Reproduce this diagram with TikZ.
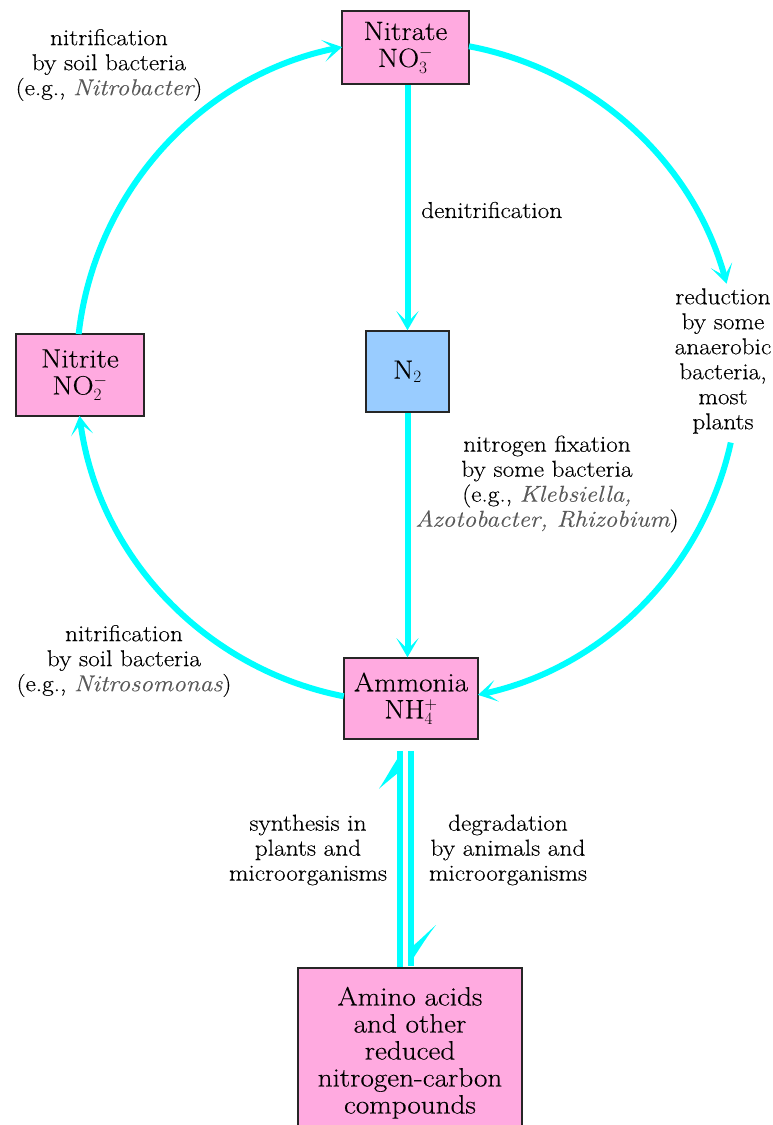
\documentclass[tikz,border=0pt]{standalone}
\usepackage{fontspec}
\setmainfont{Latin Modern Roman}[FakeStretch=1.1,FakeBold=0.3]
\usetikzlibrary{arrows.meta}
\definecolor{pinkc}{HTML}{FFAAE0}
\definecolor{bluec}{HTML}{99CCFF}
\definecolor{flowc}{HTML}{00FFFF}
\definecolor{italc}{gray}{0.35}
\newcommand{\spec}[1]{{\color{italc}\itshape #1}}
\tikzset{
  box/.style={draw=black!85, line width=1.5pt, fill=pinkc, align=center, inner sep=0pt,
    font=\fontsize{26.5}{27}\selectfont},
  lab/.style={align=center, inner sep=0pt, font=\fontsize{23}{25}\selectfont},
  flow/.style={draw=flowc, line width=6pt, -{Stealth[length=19pt,width=22pt,inset=11pt]}},
  shaft/.style={draw=flowc, line width=6pt},
  barb/.style={fill=flowc}
}
\begin{document}
\begin{tikzpicture}[x=1pt,y=-1pt]
\useasboundingbox (0,0) rectangle (773,1125);
\clip (0,0) rectangle (773,1125);
% boxes
\node[box, minimum width=127pt, minimum height=73pt] (nitrate) at (405.5,47.5) {Nitrate\\NO$_3^-$};
\node[box, minimum width=128pt, minimum height=82pt] (nitrite) at (80,375) {Nitrite\\NO$_2^-$};
\node[box, fill=bluec, minimum width=83pt, minimum height=81pt] (n2) at (407.5,371.5) {N$_2$};
\node[box, minimum width=134pt, minimum height=81pt] (amm) at (411,698.5) {Ammonia\\NH$_4^+$};
\node[box, anchor=north, minimum width=224pt, inner ysep=19pt] (amino) at (410,967)
  {Amino acids\\and other\\reduced\\nitrogen-carbon\\compounds};
% labels
\node[lab] (l1) at (109,65) {nitrification\\by soil bacteria\\(e.g., \spec{Nitrobacter})};
\node[lab, anchor=west] (l2) at (421,210) {denitrification};
\node[lab] (l3) at (723,361) {reduction\\by some\\anaerobic\\bacteria,\\most\\plants};
\node[lab] (l4) at (547,484) {nitrogen fixation\\by some bacteria\\(e.g., \spec{Klebsiella,}\\\spec{Azotobacter, Rhizobium})};
\node[lab] (l5) at (124,661) {nitrification\\by soil bacteria\\(e.g., \spec{Nitrosomonas})};
\node[lab] (l6) at (308,850) {synthesis in\\plants and\\microorganisms};
\node[lab] (l7) at (508,850) {degradation\\by animals and\\microorganisms};
% harpoon ends
\coordinate (lt) at ([xshift=-11pt,yshift=-11pt]amm.south);
\coordinate (rt) at ([yshift=1pt]amino.north -| amm.south);
% vertical connectors
\draw[flow] (n2.north |- nitrate.south) -- (n2.north);
\draw[flow] (n2.south) -- (n2.south |- amm.north);
% the cycle: arcs of one circle round N2
\draw[flow] ([shift={(186.5:331)}]n2.center) arc[start angle=186.5, end angle=258.6, radius=331];
\draw[flow] ([shift={(280.7:331)}]n2.center) arc[start angle=280.7, end angle=344.6, radius=331];
\draw[flow] ([shift={(12.4:331)}]n2.center) arc[start angle=12.4, end angle=77.7, radius=331];
\draw[flow] ([shift={(101.1:331)}]n2.center) arc[start angle=101.1, end angle=172.3, radius=331];
% reversible pair of harpoons
\draw[shaft] (amino.north -| lt) -- (lt);
\fill[barb, shift={(lt)}] (3,0) .. controls (-6,12) and (-13,26) .. (-21,38)
  .. controls (-14,32) and (-8,27) .. (-3,23) -- cycle;
\draw[shaft] (rt |- lt) -- (rt);
\fill[barb, shift={(rt)}] (-3,0) .. controls (6,-13) and (14,-27) .. (25,-41)
  .. controls (17,-34) and (10,-27) .. (3,-21) -- cycle;
\end{tikzpicture}
\end{document}
